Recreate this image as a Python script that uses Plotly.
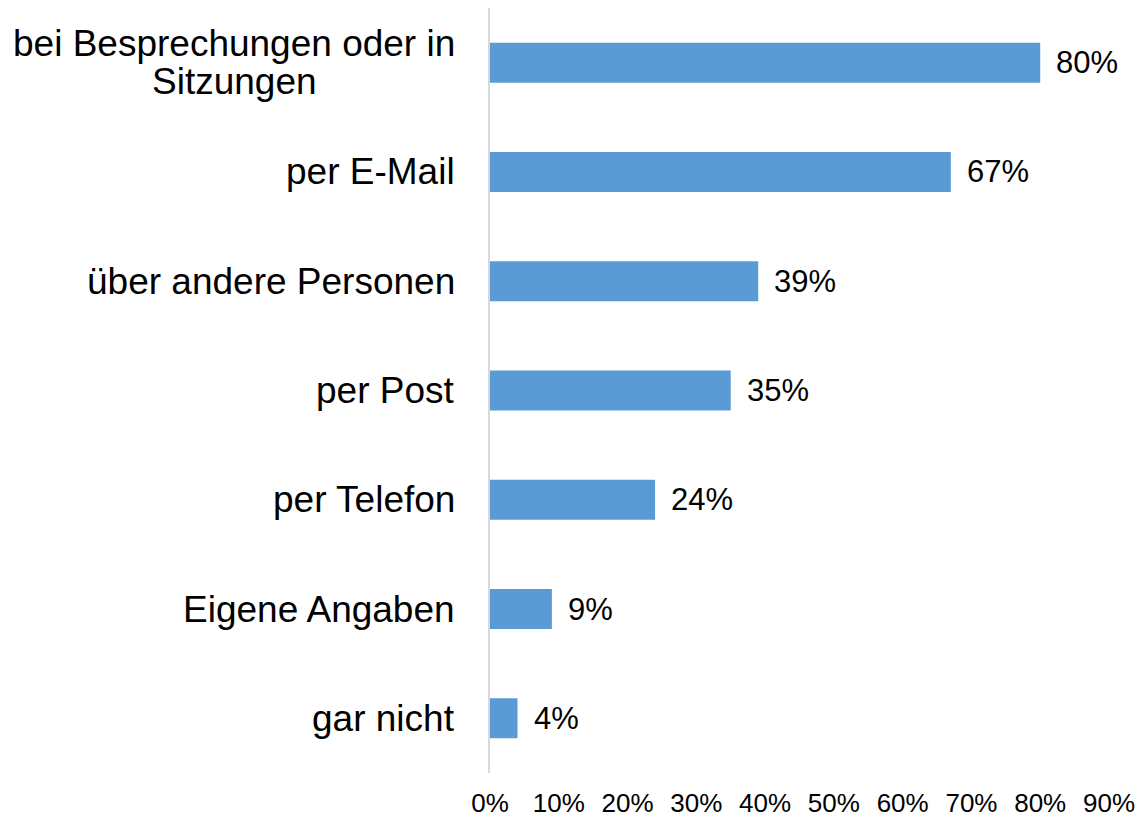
import plotly.graph_objects as go

# Kommunikationswege und Anteile (in %)
categories = [
    "bei Besprechungen oder in<br>Sitzungen",
    "per E-Mail",
    "über andere Personen",
    "per Post",
    "per Telefon",
    "Eigene Angaben",
    "gar nicht",
]
values = [80, 67, 39, 35, 24, 9, 4]
x_ticks = [0, 10, 20, 30, 40, 50, 60, 70, 80, 90]
x_tick_labels = [f"{t}%" for t in x_ticks]

FONT = "Liberation Sans, Arial, sans-serif"
BAR_COLOR = "#5B9BD5"

fig = go.Figure(
    go.Bar(
        x=values,
        y=categories,
        orientation="h",
        marker=dict(color=BAR_COLOR, line=dict(width=0)),
        hoverinfo="skip",
    )
)

annotations = []
# Category labels (multi-line labels centred, tight line spacing)
line_h = 38
for cat in categories:
    lines = cat.split("<br>")
    n = len(lines)
    for i, line in enumerate(lines):
        annotations.append(dict(
            x=0, xref="paper", y=cat, yref="y",
            text=line, showarrow=False,
            xanchor="right" if n == 1 else "center",
            xshift=-33 if n == 1 else -256,
            yshift=((n - 1) / 2 - i) * line_h,
            font=dict(family=FONT, size=37, color="#000000"),
        ))

# Value labels next to the bars
for cat, v in zip(categories, values):
    annotations.append(dict(
        x=v, xref="x", y=cat, yref="y",
        text=f"{v}%", showarrow=False,
        xanchor="left", xshift=14,
        font=dict(family=FONT, size=31, color="#000000"),
    ))

fig.update_layout(
    width=1146, height=820,
    margin=dict(l=490, r=37, t=8, b=47),
    paper_bgcolor="white", plot_bgcolor="white",
    bargap=0.634,
    showlegend=False,
    font=dict(family=FONT, color="#000000"),
    annotations=annotations,
    xaxis=dict(
        range=[0, 90],
        tickvals=x_ticks, ticktext=x_tick_labels,
        showgrid=False, zeroline=False, showline=False,
        ticks="", ticklabelstandoff=12, automargin=False,
        tickfont=dict(family=FONT, size=26, color="#000000"),
        fixedrange=True,
    ),
    yaxis=dict(
        categoryorder="array", categoryarray=categories,
        autorange="reversed", automargin=False,
        showticklabels=False, ticks="",
        showgrid=False, zeroline=False,
        showline=True, linecolor="#D9D9D9", linewidth=2,
        fixedrange=True,
    ),
)

fig.write_html("out.html")
